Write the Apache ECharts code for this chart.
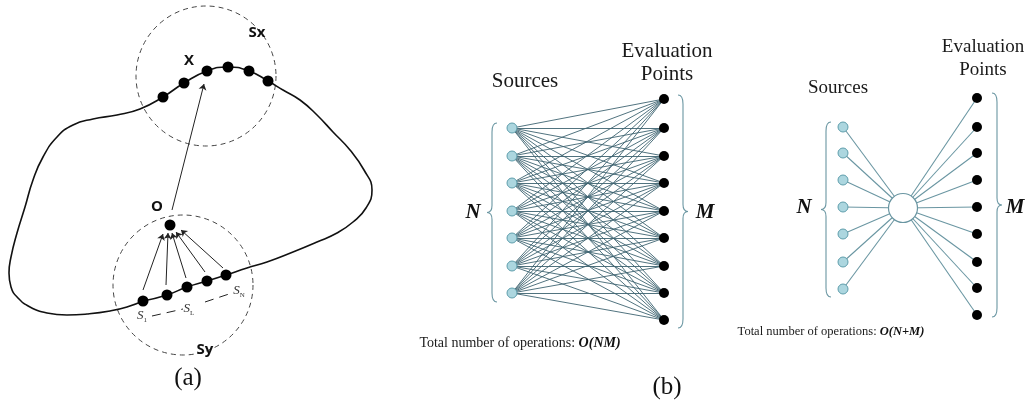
<!DOCTYPE html>
<html>
<head>
<meta charset="utf-8">
<script src="https://cdn.jsdelivr.net/npm/echarts@6/dist/echarts.min.js"></script>
<style>
  html, body { margin: 0; background: #fff; }
  #chart { width: 1036px; height: 403px; }
</style>
</head>
<body>
<div id="chart"></div>
<script>
// ---- panel (a): boundary curve, neighbourhoods, sources ----
const curvePoints = [
  [143, 301], [127, 307], [110, 311], [87, 314], [67, 315], [47, 313], [30, 307],
  [18, 298], [11, 287], [9, 273], [11, 257], [17, 233], [25, 207], [33, 180],
  [43, 157], [57, 137], [73, 125], [93, 119], [117, 115], [140, 109],
  [163, 97], [184, 83], [207, 71], [228, 67], [249, 71], [268, 81], [283, 90],
  [300, 100], [317, 115], [333, 132], [350, 150], [364, 170], [372, 190],
  [366, 208], [353, 222], [337, 233], [317, 242], [293, 252], [267, 262], [247, 268],
  [226, 275], [207, 281], [187, 287], [167, 295], [143, 301]
]
const targetDots = [[163, 97], [184, 83], [207, 71], [228, 67], [249, 71], [268, 81]]
const sourceDots = [[143, 301], [167, 295], [187, 287], [207, 281], [226, 275]]
const originDot = [[170, 225]]
// center x, center y, radius
const neighbourhoods = [[206, 76, 70], [183, 285, 70]]
const arrowsToOrigin = [
  [[143, 290], [163, 234]],
  [[166, 285], [168, 233]],
  [[186, 278], [172, 233]],
  [[205, 272], [176, 232]],
  [[223, 268], [181, 230]]
]
const arrowToTarget = [[[172, 210], [204, 84]]]
const sourceDashes = [[[152, 316], [183, 309]], [[205, 302], [229, 294]]]
const panelALabels = [[257, 33, 'Sx'], [189, 61, 'X'], [157, 207, 'O'], [205, 350, 'Sy']]
const sourceLabels = [[142, 316, '{s|S}{sub|1}'], [189, 309, '{s|S}{sub|L}'], [239, 291, '{s|S}{sub|N}']]

// ---- panel (b) left: direct evaluation ----
const directSourceX = 512
const directSourceY = [128, 156, 183, 211, 238, 266, 293]
const directEvalX = 664
const directEvalY = [99, 128, 156, 183, 211, 238, 266, 293, 320]

// ---- panel (b) right: via one hub ----
const hubSourceX = 843
const hubSourceY = [127, 153, 180, 207, 234, 262, 289]
const hubEvalX = 977
const hubEvalY = [98, 127, 153, 180, 207, 234, 262, 288, 315]
const hubPoint = [903, 208]

// x, top, bottom, side (-1 = opens right, 1 = opens left)
const braces = [[492, 123, 302, -1], [683, 95, 328, 1], [826, 122, 297, -1], [997, 93, 317, 1]]

const headerLabels = [
  [525, 81, 'Sources', 21], [667, 51, 'Evaluation', 21], [667, 74, 'Points', 21],
  [838, 88, 'Sources', 19], [983, 47, 'Evaluation', 19], [983, 70, 'Points', 19]
]
const sizeLabels = [[473, 213, 'N'], [705, 213, 'M'], [804, 208, 'N'], [1015, 208, 'M']]
const footerLabels = [
  [520, 343, 'Total number of operations: {b|O(NM)}', 14],
  [831, 332, 'Total number of operations: {b|O(N+M)}', 12.5]
]
const panelCaptions = [[188, 378, '(a)'], [667, 387, '(b)']]

const chart = echarts.init(document.getElementById('chart'))

const directLinks = []
directSourceY.forEach(sy => {
  directEvalY.forEach(ey => {
    directLinks.push({ coords: [[directSourceX, sy], [directEvalX, ey]] })
  })
})
const hubLinks = hubSourceY.map(sy => ({ coords: [[hubSourceX, sy], hubPoint] }))
  .concat(hubEvalY.map(ey => ({ coords: [hubPoint, [hubEvalX, ey]] })))

function textSeries(items, label) {
  return {
    type: 'scatter',
    symbolSize: 1,
    itemStyle: { color: 'rgba(0,0,0,0)', opacity: 1 },
    silent: true,
    z: 10,
    data: items.map(d => ({ value: [d[0], d[1]], name: d[2] })),
    label: Object.assign({ show: true, position: 'inside', formatter: p => p.name }, label)
  }
}

function sizedTextSeries(items, richFor) {
  // one label per item so each can carry its own font size
  return {
    type: 'scatter',
    symbolSize: 1,
    itemStyle: { color: 'rgba(0,0,0,0)', opacity: 1 },
    silent: true,
    z: 10,
    data: items.map(d => ({
      value: [d[0], d[1]],
      name: d[2],
      label: { fontSize: d[3], rich: richFor ? richFor(d[3]) : undefined }
    })),
    label: { show: true, position: 'inside', formatter: p => p.name, fontFamily: 'Liberation Serif', color: '#1a1a1a' }
  }
}

const option = {
  animation: false,
  grid: { left: 0, right: 0, top: 0, bottom: 0 },
  xAxis: { type: 'value', min: 0, max: 1036, show: false },
  yAxis: { type: 'value', min: 0, max: 403, inverse: true, show: false },
  series: [
    {
      type: 'line',
      data: curvePoints,
      smooth: 0.5,
      symbol: 'none',
      lineStyle: { color: '#111', width: 1.6 },
      z: 2
    },
    {
      type: 'custom',
      data: neighbourhoods,
      z: 1,
      renderItem: (params, api) => {
        const c = api.coord([api.value(0), api.value(1)])
        const r = api.size([api.value(2), 0])[0]
        return {
          type: 'circle',
          shape: { cx: c[0], cy: c[1], r: r },
          style: { fill: 'none', stroke: '#444', lineWidth: 1, lineDash: [5, 4] }
        }
      }
    },
    {
      type: 'lines',
      coordinateSystem: 'cartesian2d',
      data: arrowsToOrigin.concat(arrowToTarget).map(c => ({ coords: c })),
      symbol: ['none', 'arrow'],
      symbolSize: 6,
      lineStyle: { color: '#222', width: 1, opacity: 1 },
      z: 3
    },
    {
      type: 'lines',
      coordinateSystem: 'cartesian2d',
      data: sourceDashes.map(c => ({ coords: c })),
      lineStyle: { color: '#222', width: 1, type: [9, 6], opacity: 1 },
      z: 3
    },
    {
      type: 'scatter',
      data: targetDots.concat(sourceDots, originDot),
      symbolSize: 11,
      itemStyle: { color: '#000', opacity: 1 },
      z: 5
    },
    textSeries(panelALabels, { fontFamily: 'Open Sans', fontWeight: 'bold', fontSize: 15, color: '#111' }),
    textSeries(sourceLabels, {
      color: '#333',
      rich: {
        s: { fontFamily: 'Liberation Serif', fontStyle: 'italic', fontSize: 13, color: '#333' },
        sub: { fontFamily: 'Liberation Serif', fontSize: 7, color: '#333', padding: [9, 0, 0, 0] }
      }
    }),
    {
      type: 'lines',
      coordinateSystem: 'cartesian2d',
      data: directLinks,
      lineStyle: { color: '#3d6370', width: 0.9, opacity: 1 },
      z: 2
    },
    {
      type: 'lines',
      coordinateSystem: 'cartesian2d',
      data: hubLinks,
      lineStyle: { color: '#6a96a2', width: 1.1, opacity: 1 },
      z: 2
    },
    {
      type: 'scatter',
      data: directSourceY.map(y => [directSourceX, y]).concat(hubSourceY.map(y => [hubSourceX, y])),
      symbolSize: 10,
      itemStyle: { color: '#acd6df', borderColor: '#5e9dab', borderWidth: 1, opacity: 1 },
      z: 5
    },
    {
      type: 'scatter',
      data: directEvalY.map(y => [directEvalX, y]).concat(hubEvalY.map(y => [hubEvalX, y])),
      symbolSize: 10,
      itemStyle: { color: '#000', opacity: 1 },
      z: 5
    },
    {
      type: 'scatter',
      data: [hubPoint],
      symbolSize: 29,
      itemStyle: { color: '#fff', borderColor: '#6a96a2', borderWidth: 1.2, opacity: 1 },
      z: 5
    },
    {
      type: 'custom',
      data: braces,
      z: 4,
      renderItem: (params, api) => {
        const x = api.value(0)
        const side = api.value(3)
        const a = api.coord([x, api.value(1)])
        const b = api.coord([x, api.value(2)])
        const px = a[0], top = a[1], bot = b[1], mid = (top + bot) / 2
        const w = 5 * side
        const d = 'M' + (px - w) + ' ' + top +
          ' Q' + px + ' ' + top + ' ' + px + ' ' + (top + 9) +
          ' L' + px + ' ' + (mid - 7) +
          ' Q' + px + ' ' + mid + ' ' + (px + w) + ' ' + mid +
          ' Q' + px + ' ' + mid + ' ' + px + ' ' + (mid + 7) +
          ' L' + px + ' ' + (bot - 9) +
          ' Q' + px + ' ' + bot + ' ' + (px - w) + ' ' + bot
        return {
          type: 'path',
          shape: { pathData: d },
          style: { fill: 'none', stroke: '#6a96a2', lineWidth: 1.1 }
        }
      }
    },
    sizedTextSeries(headerLabels),
    textSeries(sizeLabels, { fontFamily: 'Liberation Serif', fontStyle: 'italic', fontWeight: 'bold', fontSize: 21, color: '#111' }),
    sizedTextSeries(footerLabels, fs => ({
      b: { fontFamily: 'Liberation Serif', fontStyle: 'italic', fontWeight: 'bold', fontSize: fs, color: '#111' }
    })),
    textSeries(panelCaptions, { fontFamily: 'Liberation Serif', fontSize: 25, color: '#111' })
  ]
}

chart.setOption(option)
</script>
</body>
</html>
